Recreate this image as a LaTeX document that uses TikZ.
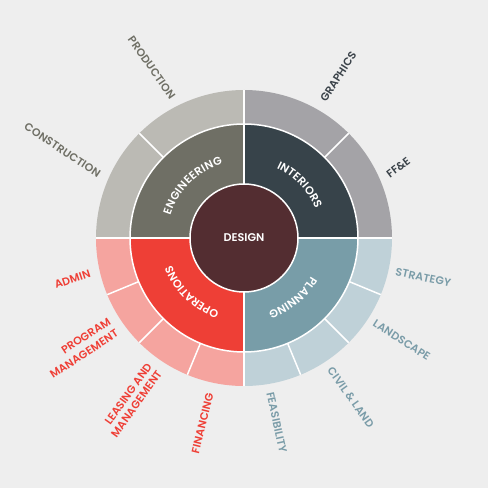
\documentclass[tikz,border=0pt]{standalone}
\usepackage{fontspec}
\setmainfont{Poppins SemiBold}
\usetikzlibrary{decorations.text}
\definecolor{bg}{HTML}{EEEEEE}
\definecolor{design}{HTML}{532D31}
\definecolor{engI}{HTML}{6F6F65}
\definecolor{engO}{HTML}{BBBAB4}
\definecolor{intI}{HTML}{37434A}
\definecolor{intO}{HTML}{A4A3A7}
\definecolor{plaI}{HTML}{789DA8}
\definecolor{plaO}{HTML}{BFD1D8}
\definecolor{opsI}{HTML}{EE3F36}
\definecolor{opsO}{HTML}{F5A49F}
\definecolor{engT}{HTML}{6F6F65}
\definecolor{intT}{HTML}{3A4249}
\definecolor{plaT}{HTML}{7A9CA8}
\definecolor{opsT}{HTML}{EE3F36}
\newcommand\labfont{\fontsize{11}{12}\selectfont\addfontfeature{LetterSpace=1}}
\newcommand\ringfont{\fontsize{11.2}{12}\selectfont}
\newcommand\wsector[5]{\fill[#5] (#1:#3) arc[start angle=#1,end angle=#2,radius=#3] -- (#2:#4) arc[start angle=#2,end angle=#1,radius=#4] -- cycle;}
\newcommand\arclabel[4]{\path[decorate, decoration={text effects along path, text={#4}, text effects/.cd, text along path, fit text to path, characters={text=white, font=\ringfont}}] ({#1+#2}:#3) arc[start angle={#1+#2}, end angle={#1-#2}, radius=#3];}
\tikzset{
  lab/.style={font=\labfont, inner sep=0pt},
  sep/.style={white, line width=1.5pt},
}
\begin{document}
\begin{tikzpicture}[x=1pt,y=1pt]
\fill[bg] (0,0) rectangle (488,488);
\useasboundingbox (0,0) rectangle (488,488);
\begin{scope}[shift={(244,250)}]
  % outer ring
  \wsector{90}{135}{114}{148}{engO}
  \wsector{135}{180}{114}{148}{engO}
  \wsector{0}{45}{114}{148}{intO}
  \wsector{45}{90}{114}{148}{intO}
  \wsector{-90}{0}{114}{148}{plaO}
  \wsector{180}{270}{114}{148}{opsO}
  % middle ring
  \wsector{90}{180}{54}{114}{engI}
  \wsector{0}{90}{54}{114}{intI}
  \wsector{-90}{0}{54}{114}{plaI}
  \wsector{180}{270}{54}{114}{opsI}
  % separators
  \draw[sep] (0,0) circle[radius=114];
  \foreach \a in {0,90,180,270} \draw[sep] (\a:54) -- (\a:148);
  \foreach \a in {45,135,202.5,225,247.5,-22.5,-45,-67.5} \draw[sep] (\a:114) -- (\a:148);
  \node[circle, fill=design, draw=white, line width=1.5pt, minimum size=108pt, inner sep=0pt, text=white, font=\ringfont] (design) at (0,0) {DESIGN};
  \arclabel{134.5}{28.5}{77}{ENGINEERING}
  \arclabel{43.5}{21.5}{77}{INTERIORS}
  \arclabel{-50.6}{21}{77}{PLANNING}
  \arclabel{225.8}{25.5}{77}{OPERATIONS}
\end{scope}
\node[lab, text=engT, rotate=-54.9] (production) at (151.7,420.5) {PRODUCTION};
\node[lab, text=engT, rotate=-33.7] (construction) at (62.5,338) {CONSTRUCTION};
\node[lab, text=intT, rotate=57.3] (graphics) at (338.3,411.3) {GRAPHICS};
\node[lab, text=intT, rotate=36.9] (ffe) at (398.3,320.5) {FF\&E};
\node[lab, text=plaT, rotate=-12.4] (strategy) at (423.3,210.5) {STRATEGY};
\node[lab, text=plaT, rotate=-32.9] (landscape) at (401.7,148) {LANDSCAPE};
\node[lab, text=plaT, rotate=-54.4] (civil) at (350.8,90.5) {CIVIL \& LAND};
\node[lab, text=plaT, rotate=-77.8] (feasibility) at (276.7,65.5) {FEASIBILITY};
\node[lab, text=opsT, rotate=18.4] (admin) at (72.5,209) {ADMIN};
\node[lab, text=opsT, rotate=33.3, align=right] (program) at (80.2,139.9) {PROGRAM\\[2pt]MANAGEMENT};
\node[lab, text=opsT, rotate=54.5, align=right] (leasing) at (131.4,87.6) {LEASING AND\\[0.5pt]MANAGEMENT};
\node[lab, text=opsT, rotate=76] (financing) at (202.5,64.7) {FINANCING};
\end{tikzpicture}
\end{document}
